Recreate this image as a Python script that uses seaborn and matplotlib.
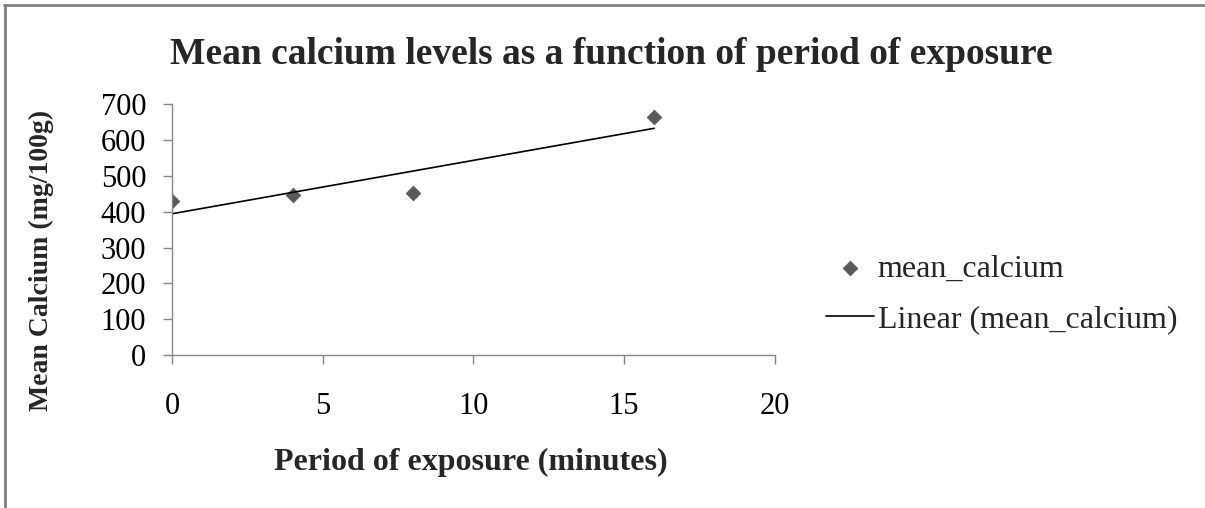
import numpy as np
import pandas as pd
import seaborn as sns
import matplotlib.pyplot as plt
from matplotlib.lines import Line2D

# data
exposure = [0, 4, 8, 16]
mean_calcium = [430, 447, 452, 665]
x_ticks = [0, 5, 10, 15, 20]
y_ticks = [0, 100, 200, 300, 400, 500, 600, 700]

df = pd.DataFrame({"exposure": exposure, "mean_calcium": mean_calcium})

sns.set_style("white")
plt.rcParams['font.family'] = ['Liberation Serif', 'DejaVu Serif']

fig = plt.figure(figsize=(12.05, 5.08), dpi=100)
ax = fig.add_axes([0.1427, 0.301, 0.5003, 0.494])

sns.scatterplot(data=df, x="exposure", y="mean_calcium", marker="D", s=55,
                color="#595959", edgecolor="#595959", label="mean_calcium", ax=ax)
# excel style linear trendline
sns.regplot(data=df, x="exposure", y="mean_calcium", scatter=False, ci=None,
            color="black", line_kws={"linewidth": 1.2},
            label="Linear (mean_calcium)", ax=ax)

ax.set_xlim(0, 20)
ax.set_ylim(0, 700)
ax.set_xticks(x_ticks)
ax.set_yticks(y_ticks)
ax.tick_params(axis="both", bottom=True, left=True, labelsize=22,
               colors="#868686", labelcolor="black", direction="out",
               length=6.5, width=1)
ax.tick_params(axis="x", pad=20)
ax.tick_params(axis="y", pad=12)
for side in ["top", "right"]:
    ax.spines[side].set_visible(False)
for side in ["left", "bottom"]:
    ax.spines[side].set_color("#868686")
    ax.spines[side].set_linewidth(1)

ax.set_xlabel("Period of exposure (minutes)", fontsize=23, fontweight="bold")
ax.set_ylabel("Mean Calcium (mg/100g)", fontsize=20, fontweight="bold")
ax.xaxis.label.set_va("center")
ax.yaxis.label.set_va("center")
ax.xaxis.set_label_coords(0.495, -0.426)
ax.yaxis.set_label_coords(-0.217, 0.378)

fig.text(0.507, 0.893, "Mean calcium levels as a function of period of exposure",
         ha="center", va="center", fontsize=27, fontweight="bold")

ax.legend(loc="center left", bbox_to_anchor=(1.038, 0.243), frameon=False,
          fontsize=23, handlelength=1.5, handletextpad=0.1, labelspacing=0.65)

# page border like the pasted excel chart
fig.add_artist(Line2D([0.003, 1.0], [0.991, 0.991], color="#808080", linewidth=2,
                      transform=fig.transFigure))
fig.add_artist(Line2D([0.004, 0.004], [0.0, 0.991], color="#808080", linewidth=2,
                      transform=fig.transFigure))

plt.savefig("out.png", dpi=100)
plt.close()
